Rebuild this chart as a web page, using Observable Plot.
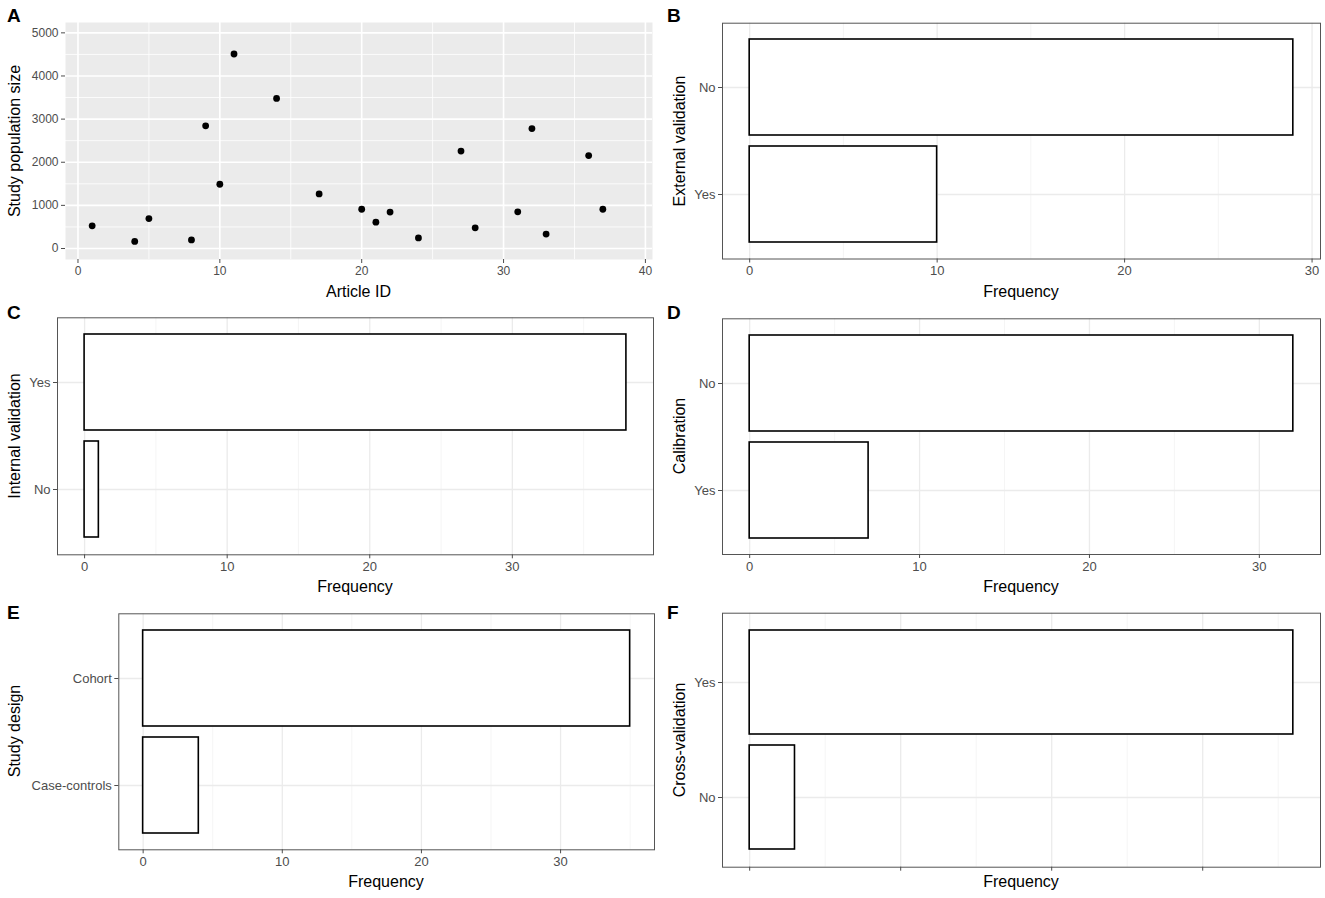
<!DOCTYPE html>
<html><head><meta charset="utf-8">
<script src="https://cdn.jsdelivr.net/npm/d3@7"></script>
<script src="https://cdn.jsdelivr.net/npm/@observablehq/plot@0.6"></script>
<style>
body{margin:0;background:#fff;font-family:"Liberation Sans",Arial,sans-serif;}
#fig{position:relative;width:1325px;height:898px;overflow:hidden;background:#fff;}
.p{position:absolute;}
.p svg{display:block;}
.lab{position:absolute;font-weight:bold;font-size:19px;line-height:19px;color:#000;}
.xt{position:absolute;font-size:16px;line-height:16px;color:#000;transform:translate(-50%,-50%);white-space:nowrap;}
.yt{position:absolute;font-size:16px;line-height:16px;color:#000;transform:translate(-50%,-50%) rotate(-90deg);white-space:nowrap;}
</style></head>
<body><div id="fig"></div>
<script>
// Panel A data
const articleIds = [1, 4, 5, 8, 9, 10, 11, 14, 17, 20, 21, 22, 24, 27, 28, 31, 32, 33, 36, 37];
const populationSizes = [525, 165, 695, 200, 2845, 1490, 4510, 3480, 1265, 910, 610, 845, 245, 2260, 480, 850, 2780, 335, 2155, 910];
const idTicks = [0, 10, 20, 30, 40];
const idMinor = [5, 15, 25, 35];
const sizeTicks = [0, 1000, 2000, 3000, 4000, 5000];
const sizeMinor = [500, 1500, 2500, 3500, 4500];

// Bar panels data
const externalCats = ["No", "Yes"];
const externalFreq = [29, 10];
const internalCats = ["Yes", "No"];
const internalFreq = [38, 1];
const calibrationCats = ["No", "Yes"];
const calibrationFreq = [32, 7];
const designCats = ["Cohort", "Case-controls"];
const designFreq = [35, 4];
const crossCats = ["Yes", "No"];
const crossFreq = [36, 3];
const freqTicks = [0, 10, 20, 30];
const freqMinor = [5, 15, 25, 35];

const FONT = '"Liberation Sans", Arial, sans-serif';
const fig = document.getElementById("fig");

function place(el, left, top) {
  const d = document.createElement("div");
  d.className = "p";
  d.style.left = left + "px";
  d.style.top = top + "px";
  d.appendChild(el);
  fig.appendChild(d);
}
function text(cls, str, x, y) {
  const d = document.createElement("div");
  d.className = cls;
  d.textContent = str;
  d.style.left = x + "px";
  d.style.top = y + "px";
  fig.appendChild(d);
}

// Panel A
const pointsA = articleIds.map((id, i) => ({id, size: populationSizes[i]}));
const chartA = Plot.plot({
  width: 660, height: 300,
  marginLeft: 65, marginRight: 8, marginTop: 22, marginBottom: 41,
  style: {fontFamily: FONT, background: "transparent"},
  x: {domain: [-0.88, 40.5], label: null},
  y: {domain: [-255, 5240], label: null},
  marks: [
    Plot.frame({fill: "#EBEBEB", stroke: "none"}),
    Plot.gridX(idMinor, {stroke: "#fff", strokeOpacity: 1, strokeWidth: 0.8}),
    Plot.gridY(sizeMinor, {stroke: "#fff", strokeOpacity: 1, strokeWidth: 0.8}),
    Plot.gridX(idTicks, {stroke: "#fff", strokeOpacity: 1, strokeWidth: 1.6}),
    Plot.gridY(sizeTicks, {stroke: "#fff", strokeOpacity: 1, strokeWidth: 1.6}),
    Plot.dot(pointsA, {x: "id", y: "size", r: 3.4, fill: "#000", stroke: "none"}),
    Plot.axisX(idTicks, {tickSize: 4, tickPadding: 3, fontSize: 12, color: "#4D4D4D", label: null, tickFormat: (d) => String(d)}),
    Plot.axisY(sizeTicks, {tickSize: 4, tickPadding: 3, fontSize: 12, color: "#4D4D4D", label: null, tickFormat: (d) => String(d)})
  ]
});
place(chartA, 0, 0);

function barPanel(cats, vals, o) {
  const rows = cats.map((c, i) => ({cat: c, n: vals[i]}));
  return Plot.plot({
    width: o.w, height: o.h,
    marginLeft: o.ml, marginRight: o.mr, marginTop: o.mt, marginBottom: o.mb,
    style: {fontFamily: FONT, background: "transparent"},
    x: {domain: o.xd, label: null},
    y: {type: "band", domain: cats, paddingInner: 0.1, paddingOuter: 0.15, label: null},
    marks: [
      Plot.gridX(freqMinor, {stroke: "#F0F0F0", strokeOpacity: 1, strokeWidth: 0.7}),
      Plot.gridX(freqTicks, {stroke: "#EBEBEB", strokeOpacity: 1, strokeWidth: 1.3}),
      Plot.gridY(cats, {stroke: "#EBEBEB", strokeOpacity: 1, strokeWidth: 1.3}),
      Plot.barX(rows, {x: "n", y: "cat", fill: "#fff", stroke: "#000", strokeWidth: 1.6}),
      Plot.frame({stroke: "#555", strokeWidth: 1}),
      Plot.axisX(freqTicks, {tickSize: 4, tickPadding: 3, fontSize: 13, color: "#4D4D4D", label: null,
        tickFormat: o.noLabels ? () => "" : (d) => String(d)}),
      Plot.axisY(cats, {tickSize: 4, tickPadding: 3, fontSize: 13, color: "#4D4D4D", label: null})
    ]
  });
}

place(barPanel(externalCats, externalFreq, {w: 665, h: 300, ml: 62, mr: 5, mt: 22.7, mb: 41.5, xd: [-1.45, 30.45]}), 660, 0);
place(barPanel(internalCats, internalFreq, {w: 660, h: 300, ml: 57, mr: 7, mt: 17.3, mb: 45.7, xd: [-1.9, 39.9]}), 0, 300);
place(barPanel(calibrationCats, calibrationFreq, {w: 665, h: 300, ml: 62, mr: 5, mt: 18.3, mb: 46, xd: [-1.6, 33.6]}), 660, 300);
place(barPanel(designCats, designFreq, {w: 660, h: 298, ml: 118.3, mr: 6, mt: 13.3, mb: 48.7, xd: [-1.75, 36.75]}), 0, 600);
place(barPanel(crossCats, crossFreq, {w: 665, h: 298, ml: 62, mr: 5, mt: 12.7, mb: 31.3, xd: [-1.8, 37.8], noLabels: true}), 660, 600);

// Titles
text("xt", "Article ID", 358.5, 292);
text("yt", "Study population size", 15, 140.5);
text("xt", "Frequency", 1021, 292);
text("yt", "External validation", 680, 140.6);
text("xt", "Frequency", 355, 587);
text("yt", "Internal validation", 15, 436);
text("xt", "Frequency", 1021, 587);
text("yt", "Calibration", 680, 436);
text("xt", "Frequency", 386, 882);
text("yt", "Study design", 15, 731);
text("xt", "Frequency", 1021, 882);
text("yt", "Cross-validation", 680, 740);

// Panel letters
text("lab", "A", 7, 6);
text("lab", "B", 667, 6);
text("lab", "C", 7, 303);
text("lab", "D", 667, 303);
text("lab", "E", 7, 603);
text("lab", "F", 667, 603);
</script>
</body></html>
